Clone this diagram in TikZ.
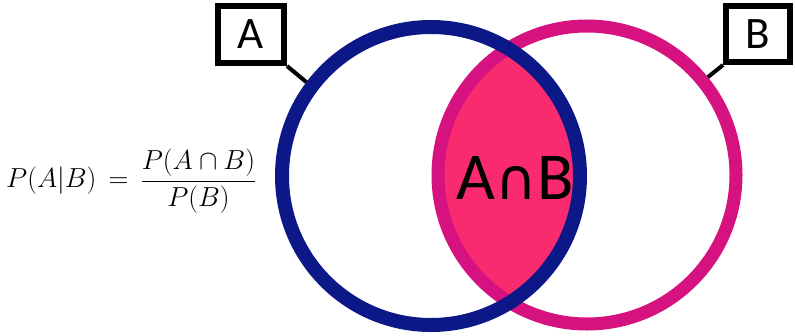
\documentclass[tikz,border=0pt]{standalone}
\usepackage{fix-cm}
\usepackage{fontspec}
\setmainfont{Carlito}
\newfontfamily\symfont{DejaVu Sans}
\definecolor{setblue}{RGB}{12,24,135}
\definecolor{setpink}{RGB}{214,18,128}
\definecolor{overlap}{RGB}{250,42,110}
\tikzset{
  setring/.style={circle, minimum size=298pt, inner sep=0pt, line width=13pt},
  tagbox/.style={draw=black, line width=6pt, inner sep=0pt, font=\fontsize{45}{45}\selectfont},
  tagline/.style={draw=black, line width=4pt},
}
\begin{document}
\begin{tikzpicture}[x=1pt, y=-1pt]
  \useasboundingbox (0,0) rectangle (795,335);
  \fill[white] (0,0) rectangle (795,335);
  % shared region of the two sets
  \begin{scope}
    \clip (587,175) circle (150pt);
    \fill[overlap] (431,176) circle (149pt);
  \end{scope}
  % set outlines
  \node[setring, draw=setpink] (cb) at (587,175) {};
  \node[setring, draw=setblue, line width=14pt] (ca) at (431,176) {};
  % labels of the sets
  \node[tagbox, minimum width=66pt, minimum height=57pt, fill=white] (la) at (251,34.5) {};
  \node[tagbox, minimum width=64pt, minimum height=56pt, fill=white] (lb) at (758,34) {};
  \draw[tagline] (la.south east) -- (ca.143);
  \draw[tagline] (lb.south west) -- (cb.39);
  \node[tagbox, minimum width=66pt, minimum height=57pt, fill=white] at (la) {A};
  \node[tagbox, minimum width=64pt, minimum height=56pt, fill=white] at (lb) {B};
  % intersection label
  \node[font=\fontsize{67}{67}\selectfont] (ab) at (515,178) {A{\symfont\fontsize{57}{57}\selectfont ∩}B};
  % conditional probability formula
  \node[anchor=west, inner sep=0pt, font=\fontsize{27.5}{32}\selectfont] (formula) at (6,181)
    {$\displaystyle P(A|B)\,=\,\frac{P(A\cap B)}{P(B)}$};
\end{tikzpicture}
\end{document}
